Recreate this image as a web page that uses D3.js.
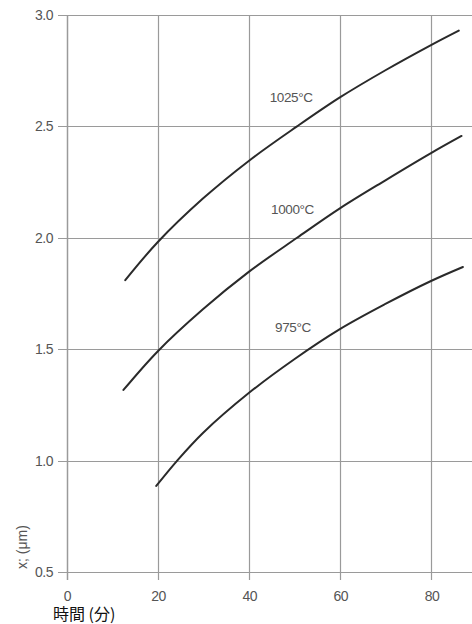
<!DOCTYPE html>
<html><head><meta charset="utf-8">
<script src="https://cdn.jsdelivr.net/npm/d3@7"></script>
<style>
html,body{margin:0;padding:0;background:#fff;}
svg{display:block;}
</style></head>
<body>
<svg id="chart" width="472" height="624"></svg>
<script>
// ---- data ----
const xTicks = [0, 20, 40, 60, 80];
const yTicks = [0.5, 1.0, 1.5, 2.0, 2.5, 3.0];
const seriesNames = ["1025°C", "1000°C", "975°C"];
const time1025 = [12.9, 20, 30, 40, 50.6, 60, 70, 80, 86.1];
const x1025    = [1.81, 1.98, 2.177, 2.345, 2.50, 2.63, 2.752, 2.865, 2.93];
const time1000 = [12.5, 20, 30, 40, 50.6, 60, 70, 80, 86.7];
const x1000    = [1.317, 1.49, 1.68, 1.847, 2.0, 2.132, 2.258, 2.38, 2.457];
const time975  = [19.7, 24.3, 30, 40, 50, 60, 70, 80, 87];
const x975     = [0.886, 1.0, 1.125, 1.303, 1.455, 1.59, 1.703, 1.806, 1.869];
const labelTime = [49.3, 49.6, 49.7];
const labelX    = [2.63, 2.13, 1.60];
const xTitle = "時間 (分)";
const yTitle = "x; (μm)";

// ---- drawing ----
const W = 472, H = 624;
const svg = d3.select("#chart");
const x = d3.scaleLinear().domain([0, 80]).range([66.5, 431]);
const y = d3.scaleLinear().domain([0.5, 3.0]).range([572, 15]);
const grid = "#9a9a9a", txt = "#555";

// horizontal gridlines (extend to right edge)
svg.append("g").selectAll("line").data(yTicks).join("line")
  .attr("x1", 58).attr("x2", W)
  .attr("y1", d => Math.round(y(d)) + 0.5).attr("y2", d => Math.round(y(d)) + 0.5)
  .attr("stroke", grid).attr("stroke-width", 1.2);

// vertical gridlines
svg.append("g").selectAll("line").data(xTicks).join("line")
  .attr("x1", d => Math.round(x(d)) + 0.5).attr("x2", d => Math.round(x(d)) + 0.5)
  .attr("y1", y(3.0)).attr("y2", y(0.5) + 8)
  .attr("stroke", grid).attr("stroke-width", d => d === 0 ? 1.5 : 1.2);

// y tick labels
svg.append("g").selectAll("text").data(yTicks).join("text")
  .attr("x", 53).attr("y", d => y(d)).attr("dy", "0.35em")
  .attr("text-anchor", "end")
  .attr("font-family", "Liberation Sans, Arial, sans-serif").attr("font-size", 14)
  .attr("fill", txt).attr("letter-spacing", -0.5)
  .text(d => d3.format(".1f")(d));

// x tick labels
svg.append("g").selectAll("text").data(xTicks).join("text")
  .attr("x", d => x(d) + 1).attr("y", 596).attr("dy", "0.35em")
  .attr("text-anchor", "middle")
  .attr("font-family", "Liberation Sans, Arial, sans-serif").attr("font-size", 14)
  .attr("fill", txt).attr("letter-spacing", -0.5)
  .text(d => d);

// curves
const series = [
  d3.zip(time1025, x1025),
  d3.zip(time1000, x1000),
  d3.zip(time975, x975)
];
const line = d3.line().x(d => x(d[0])).y(d => y(d[1])).curve(d3.curveCatmullRom.alpha(0.5));
svg.append("g").selectAll("path").data(series).join("path")
  .attr("d", line).attr("fill", "none")
  .attr("stroke", "#2a2a2a").attr("stroke-width", 2).attr("stroke-linecap", "round");

// series labels
svg.append("g").selectAll("text").data(seriesNames).join("text")
  .attr("x", (d, i) => x(labelTime[i])).attr("y", (d, i) => y(labelX[i])).attr("dy", "0.35em")
  .attr("text-anchor", "middle")
  .attr("font-family", "Liberation Sans, Arial, sans-serif").attr("font-size", 13.5)
  .attr("fill", txt).attr("letter-spacing", -0.4)
  .text(d => d);

// axis titles
svg.append("text")
  .attr("transform", "translate(22,547) rotate(-90)")
  .attr("text-anchor", "middle").attr("dy", "0.35em")
  .attr("font-family", "Liberation Sans, Arial, sans-serif").attr("font-size", 14)
  .attr("fill", txt).text(yTitle);

svg.append("text")
  .attr("x", 53).attr("y", 614).attr("dy", "0.35em")
  .attr("font-family", "Noto Sans CJK JP, sans-serif").attr("font-size", 16)
  .attr("fill", "#111").text(xTitle);
</script>
</body></html>
